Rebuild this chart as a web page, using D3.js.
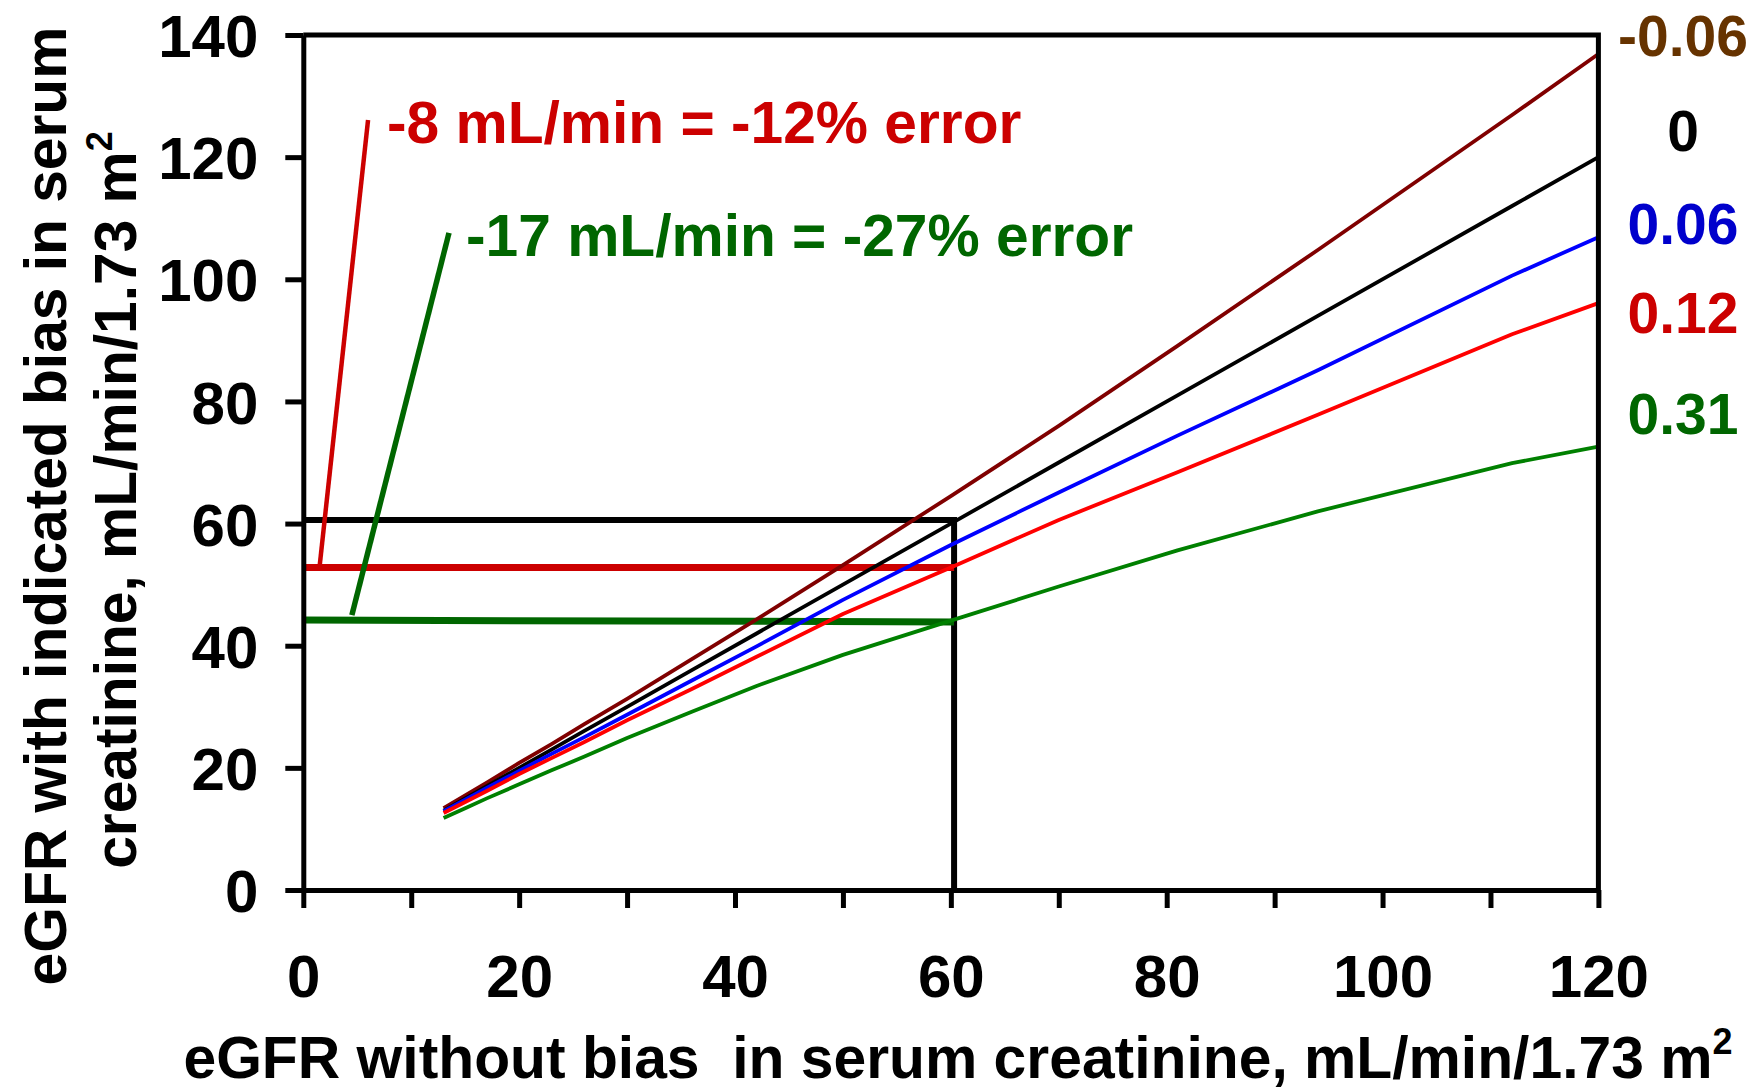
<!DOCTYPE html>
<meta charset="utf-8">
<script src="https://d3js.org/d3.v7.min.js"></script>
<style>
  body { margin: 0; background: #fff; }
  text { font-family: "Liberation Sans", Arial, sans-serif; font-weight: bold; }
</style>
<svg id="chart" width="1755" height="1091"></svg>
<script>

// eGFR without bias (x) and eGFR with each creatinine bias (y)
var egfrTrue = [13, 15, 17, 20, 23, 26, 30, 36, 42, 50, 60, 70, 81, 94, 112, 120]
var biasNeg06 = [13.4, 15.5, 17.6, 20.8, 23.9, 27.1, 31.3, 37.8, 44.3, 53.2, 64.5, 76.0, 89.1, 104.8, 126.9, 136.9]
var bias0 = [13, 15, 17, 20, 23, 26, 30, 36, 42, 50, 60, 70, 81, 94, 112, 120]
var bias06 = [12.9, 14.8, 16.7, 19.5, 22.3, 25.0, 28.7, 34.3, 39.9, 47.5, 56.5, 65.1, 74.4, 85.1, 100.6, 106.9]
var bias12 = [12.6, 14.4, 16.2, 19.0, 21.6, 24.2, 27.8, 32.9, 38.2, 45.2, 52.8, 60.6, 68.4, 77.8, 91.0, 96.1]
var bias31 = [11.8, 13.4, 15.0, 17.3, 19.6, 21.8, 24.9, 29.2, 33.4, 38.5, 44.1, 49.7, 55.6, 62.0, 69.9, 72.6]

var biasLabels = ["-0.06", "0", "0.06", "0.12", "0.31"]
var labelY = [140, 124.3, 109.2, 94.6, 78.1]   // where the right-hand labels sit (y units)

var xTicks = [0, 20, 40, 60, 80, 100, 120]
var xMinor = [0, 10, 20, 30, 40, 50, 60, 70, 80, 90, 100, 110, 120]
var yTicks = [0, 20, 40, 60, 80, 100, 120, 140]

// annotation values
var targetX = 60.3, targetY = 60.6
var redLevel = 52.8
var greenLevel = [44.2, 43.9]
var redLeader = [[1.5, 52.8], [6.0, 126.1]]
var greenLeader = [[4.5, 45.0], [13.5, 107.6]]
var redNote = "-8 mL/min = -12% error"
var greenNote = "-17 mL/min = -27% error"

var svg = d3.select("#chart")
var x = d3.scaleLinear().domain([0, 120]).range([303.3, 1598.4])
var y = d3.scaleLinear().domain([0, 140]).range([890, 35])

var series = [
  {vals: biasNeg06, color: "#800000"},
  {vals: bias0, color: "#000000"},
  {vals: bias06, color: "#0000ff"},
  {vals: bias12, color: "#ff0000"},
  {vals: bias31, color: "#008000"}
]
var labelColors = ["#663300", "#000000", "#0000cc", "#cc0000", "#006600"]

var line = d3.line()
  .x(function(d){ return x(d[0]) })
  .y(function(d){ return y(d[1]) })

// annotation lines (under curves)
svg.append("path")
  .attr("d", line([[0, targetY], [targetX, targetY], [targetX, 0]]))
  .attr("fill", "none").attr("stroke", "#000").attr("stroke-width", 6)
svg.append("path")
  .attr("d", line([[0, redLevel], [targetX, redLevel]]))
  .attr("fill", "none").attr("stroke", "#cc0000").attr("stroke-width", 7)
svg.append("path")
  .attr("d", line([[0, greenLevel[0]], [targetX, greenLevel[1]]]))
  .attr("fill", "none").attr("stroke", "#006600").attr("stroke-width", 7)
svg.append("path")
  .attr("d", line(redLeader))
  .attr("fill", "none").attr("stroke", "#cc0000").attr("stroke-width", 4.5)
svg.append("path")
  .attr("d", line(greenLeader))
  .attr("fill", "none").attr("stroke", "#006600").attr("stroke-width", 5.5)

// curves
series.forEach(function(s){
  svg.append("path")
    .attr("d", line(egfrTrue.map(function(v, i){ return [v, s.vals[i]] })))
    .attr("fill", "none")
    .attr("stroke", s.color)
    .attr("stroke-width", 3.8)
    .attr("stroke-linejoin", "round")
})

// axes
var yAxis = svg.append("g")
  .attr("transform", "translate(" + x(0) + ",0)")
  .call(d3.axisLeft(y).tickValues(yTicks).tickSize(18).tickSizeOuter(0).tickPadding(27).tickFormat(d3.format("d")))
var xAxis = svg.append("g")
  .attr("transform", "translate(0," + y(0) + ")")
  .call(d3.axisBottom(x).tickValues(xMinor).tickSize(18).tickSizeOuter(0).tickPadding(46)
    .tickFormat(function(d){ return xTicks.indexOf(d) >= 0 ? d : "" }))

svg.selectAll(".domain, .tick line").attr("stroke", "#000").attr("stroke-width", 5)
svg.selectAll(".tick text").attr("fill", "#000").style("font-size", "60px")
yAxis.selectAll(".tick text").attr("dy", "0.36em")
xAxis.selectAll(".tick text").attr("dy", "0.71em")

// top and right frame
svg.append("path")
  .attr("d", line([[0, 140], [120, 140], [120, 0]]))
  .attr("fill", "none").attr("stroke", "#000").attr("stroke-width", 5)

// right-hand bias labels
svg.selectAll(".biaslab")
  .data(biasLabels)
  .join("text")
    .attr("class", "biaslab")
    .attr("x", 1683)
    .attr("y", function(d, i){ return y(labelY[i]) })
    .attr("dy", "0.36em")
    .attr("text-anchor", "middle")
    .attr("fill", function(d, i){ return labelColors[i] })
    .style("font-size", "57px")
    .text(function(d){ return d })

// error notes
svg.append("text").attr("x", 387).attr("y", 143)
  .attr("fill", "#cc0000").style("font-size", "58.7px").text(redNote)
svg.append("text").attr("x", 466).attr("y", 256)
  .attr("fill", "#006600").style("font-size", "58.7px").text(greenNote)

// axis titles
var xt = svg.append("text").attr("x", 958).attr("y", 1078)
  .attr("text-anchor", "middle").style("font-size", "58.8px")
xt.append("tspan").text("eGFR without bias\u00a0 in serum creatinine, mL/min/1.73 m")
xt.append("tspan").attr("dy", -24).style("font-size", "36px").text("2")

var yt1 = svg.append("text").attr("transform", "rotate(-90)")
  .attr("x", -506).attr("y", 66).attr("text-anchor", "middle").style("font-size", "58.7px")
  .text("eGFR with indicated bias in serum")
var yt2 = svg.append("text").attr("transform", "rotate(-90)")
  .attr("x", -500).attr("y", 136).attr("text-anchor", "middle").style("font-size", "58.7px")
yt2.append("tspan").text("creatinine, mL/min/1.73 m")
yt2.append("tspan").attr("dy", -24).style("font-size", "36px").text("2")

</script>
